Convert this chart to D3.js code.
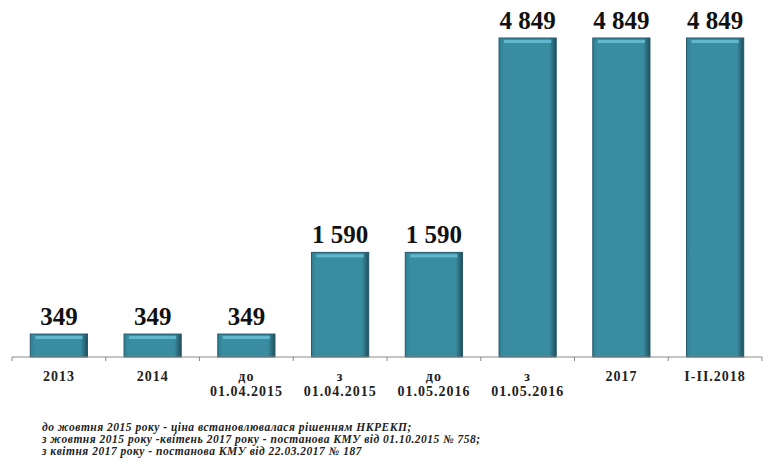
<!DOCTYPE html>
<html>
<head>
<meta charset="utf-8">
<script src="https://cdn.jsdelivr.net/npm/d3@7"></script>
<style>
  body { margin: 0; background: #fff; }
  svg { display: block; }
</style>
</head>
<body>
<div id="chart"></div>
<script>
// chart data
const categories = ["2013", "2014", "до\n01.04.2015", "з\n01.04.2015", "до\n01.05.2016", "з\n01.05.2016", "2017", "I-II.2018"];
const values = [349, 349, 349, 1590, 1590, 4849, 4849, 4849];
const notes = [
    "до жовтня 2015 року - ціна встановлювалася рішенням НКРЕКП;",
    "з жовтня 2015 року -квітень 2017 року - постанова КМУ від 01.10.2015 № 758;",
    "з квітня 2017 року - постанова КМУ від 22.03.2017 № 187"
];

const width = 771;
const height = 470;
const baseY = 357;

const svg = d3.select('#chart')
    .append('svg')
    .attr('width', width)
    .attr('height', height);

// bar gradient (bevel look)
const defs = svg.append('defs');
const grad = defs.append('linearGradient').attr('id', 'barGrad')
    .attr('x1', 0).attr('x2', 1).attr('y1', 0).attr('y2', 0);
grad.append('stop').attr('offset', '0%').attr('stop-color', '#2f7f93');
grad.append('stop').attr('offset', '8%').attr('stop-color', '#3a8ca1');
grad.append('stop').attr('offset', '88%').attr('stop-color', '#3a8ca1');
grad.append('stop').attr('offset', '100%').attr('stop-color', '#1f4f5c');

const x = d3.scaleBand()
    .domain(categories)
    .range([12, 762])
    .paddingInner(0.39)
    .paddingOuter(0.195);

const y = d3.scaleLinear()
    .domain([0, 4849])
    .range([baseY, 38]);

// bars
const bars = svg.append('g').selectAll('g.bar')
    .data(values)
    .enter()
    .append('g')
    .attr('class', 'bar');

bars.append('rect')
    .attr('x', (d, i) => x(categories[i]))
    .attr('y', d => y(d))
    .attr('width', x.bandwidth())
    .attr('height', d => baseY - y(d))
    .attr('fill', 'url(#barGrad)')
    .attr('stroke', '#24586a')
    .attr('stroke-width', 1);

// top highlight strip
bars.append('rect')
    .attr('x', (d, i) => x(categories[i]) + 5)
    .attr('y', d => y(d) + 2)
    .attr('width', x.bandwidth() - 10)
    .attr('height', 3)
    .attr('fill', '#6cc3d8')
    .attr('opacity', 0.8);

// value labels
bars.append('text')
    .attr('x', (d, i) => x(categories[i]) + x.bandwidth() / 2)
    .attr('y', d => y(d) - 9)
    .attr('text-anchor', 'middle')
    .attr('font-family', '"Liberation Serif", "Times New Roman", serif')
    .attr('font-weight', 'bold')
    .attr('font-size', '25px')
    .attr('fill', '#111')
    .text(d => d3.format(',')(d).replace(',', ' '));

// axis line and ticks at band boundaries
const axis = svg.append('g').attr('stroke', '#8a8a8a');
axis.append('line')
    .attr('x1', 12).attr('x2', 762)
    .attr('y1', baseY).attr('y2', baseY);

const bounds = categories.map(c => x(c) - x.step() * x.paddingInner() / 2);
bounds.push(762);
axis.selectAll('line.tick')
    .data(bounds)
    .enter()
    .append('line')
    .attr('class', 'tick')
    .attr('x1', d => d).attr('x2', d => d)
    .attr('y1', baseY).attr('y2', baseY + 4);

// category labels
const xl = svg.append('g').selectAll('text')
    .data(categories)
    .enter()
    .append('text')
    .attr('text-anchor', 'middle')
    .attr('font-family', '"Liberation Serif", "Times New Roman", serif')
    .attr('font-weight', 'bold')
    .attr('font-size', '14px')
    .attr('letter-spacing', '1px')
    .attr('fill', '#222');

xl.each(function (c) {
    let lines = c.split('\n');
    let t = d3.select(this);
    lines.forEach((l, j) => {
        t.append('tspan')
            .attr('x', x(c) + x.bandwidth() / 2)
            .attr('y', 381 + j * 15)
            .text(l);
    });
});

// footnotes
svg.append('g').selectAll('text')
    .data(notes)
    .enter()
    .append('text')
    .attr('x', 42)
    .attr('y', (d, i) => 431 + i * 12)
    .attr('font-family', '"Liberation Serif", "Times New Roman", serif')
    .attr('font-weight', 'bold')
    .attr('font-style', 'italic')
    .attr('font-size', '11.5px')
    .attr('letter-spacing', '0.5px')
    .attr('fill', '#222')
    .text(d => d);
</script>
</body>
</html>
